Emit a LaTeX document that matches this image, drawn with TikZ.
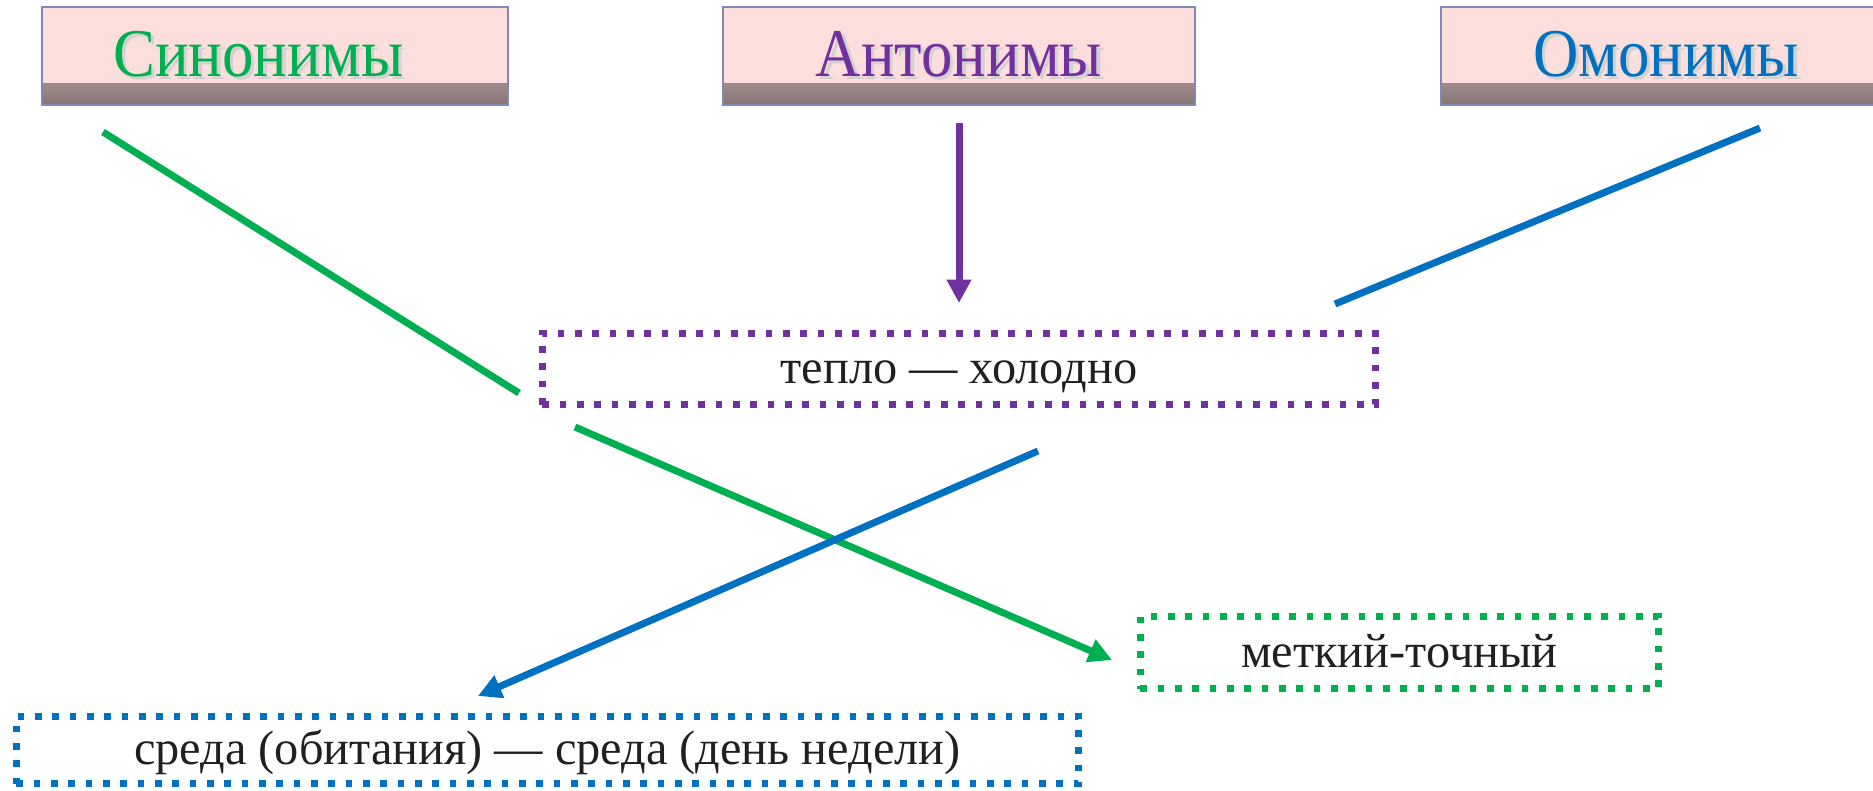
\documentclass[tikz,border=0pt]{standalone}
\usepackage{fontspec}
\setmainfont{Liberation Serif}
\newfontfamily\headfont[FakeStretch=0.92]{Liberation Serif}
\usetikzlibrary{arrows.meta}

\definecolor{synGreen}{HTML}{00B050}
\definecolor{antPurple}{HTML}{7030A0}
\definecolor{homBlue}{HTML}{0070C0}
\definecolor{headPink}{HTML}{FCDEDC}
\definecolor{headShade}{HTML}{857373}
\definecolor{headBorder}{HTML}{8088B8}
\definecolor{textBlack}{HTML}{231F20}

% heading word with a light drop shadow
\newcommand{\headtext}[2]{\raisebox{-1.8pt}{{\color{black!18}\rlap{\kern1pt\raisebox{-1pt}{#2}}}{\color{#1}#2}}}

\tikzset{
    head/.style={draw=headBorder, line width=0.6pt, fill=headPink,
        minimum height=29.4pt, inner sep=0pt,
        font=\headfont\fontsize{20.5pt}{24pt}\selectfont,
        path picture={\shade[top color=headPink, bottom color=headShade]
            ([yshift=6.5pt]path picture bounding box.south west)
            rectangle (path picture bounding box.south east);}},
    pairbox/.style={line width=2pt, dash pattern=on 2pt off 3.2pt,
        inner sep=0pt, text=textBlack, text height=8.9pt, text depth=0pt,
        font=\fontsize{14.5pt}{17pt}\selectfont},
    link/.style={line width=2.1pt},
    linkarrow/.style={link, -{Triangle[width=7pt,length=7pt]}},
}

\begin{document}
\begin{tikzpicture}[x=0.3pt, y=-0.3pt]
    \useasboundingbox (0,0) rectangle (1873,790);

    % headings
    \node[head, minimum width=139.8pt] (syn) at (275,56) {\headtext{synGreen}{Синонимы}\kern10pt};
    \node[head, minimum width=141.6pt] (ant) at (959,56) {\headtext{antPurple}{Антонимы}};
    \node[head, minimum width=135pt] (hom) at (1666,56) {\headtext{homBlue}{Омонимы}};

    % examples
    \node[pairbox, draw=antPurple, minimum width=250pt, minimum height=21.4pt] (warm) at (959,369) {тепло — холодно};
    \node[pairbox, draw=synGreen, minimum width=155.5pt, minimum height=21.7pt] (exact) at (1399.5,652.5) {меткий-точный};
    \node[pairbox, draw=homBlue, minimum width=318.7pt, minimum height=20.2pt] (sreda) at (547.5,750) {среда (обитания) — среда (день недели)};

    % free ends of the links
    \coordinate (synFrom) at (103,132);
    \coordinate (synGap) at (519,393);
    \coordinate (synBack) at (575,427);
    \coordinate (exactTip) at (1112,660);
    \coordinate (homFrom) at (1760,128);
    \coordinate (homGap) at (1335,304);
    \coordinate (homBack) at (1038,451);
    \coordinate (sredaTip) at (478,696);

    \draw[link, synGreen] (synFrom) -- (synGap);
    \draw[linkarrow, synGreen] (synBack) -- (exactTip);
    \draw[linkarrow, antPurple, shorten <=5.1pt, shorten >=8.1pt] (ant) -- (warm);
    \draw[link, homBlue] (homFrom) -- (homGap);
    \draw[linkarrow, homBlue] (homBack) -- (sredaTip);
\end{tikzpicture}
\end{document}
